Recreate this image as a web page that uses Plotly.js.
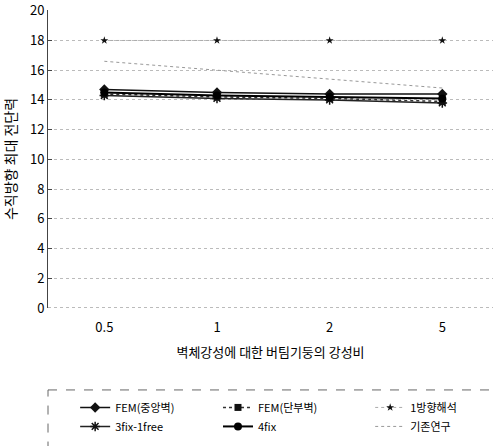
<!DOCTYPE html>
<html><head><meta charset="utf-8">
<script src="https://cdn.plot.ly/plotly-3.0.1.min.js"></script>
<style>html,body{margin:0;padding:0;background:#fff;}#chart{width:493px;height:446px;}</style>
</head><body><div id="chart"></div>
<script>
const categories = ['0.5', '1', '2', '5'];
const femCenter = [14.7, 14.5, 14.4, 14.4];
const femEnd = [14.4, 14.2, 14.1, 13.9];
const oneWay = [18, 18, 18, 18];
const fix3free1 = [14.3, 14.1, 14.0, 13.8];
const fix4 = [14.5, 14.3, 14.2, 14.1];
const previous = [16.6, 16.0, 15.4, 14.8];
const yTicks = [0, 2, 4, 6, 8, 10, 12, 14, 16, 18, 20];

const font = 'Noto Sans CJK KR, sans-serif';
const traces = [
  {name: 'FEM(중앙벽)', legend: 'legend', x: categories, y: femCenter, mode: 'lines+markers',
   line: {color: '#111', width: 1.5}, marker: {symbol: 'diamond', size: 8, color: '#111'}},
  {name: 'FEM(단부벽)', legend: 'legend2', x: categories, y: femEnd, mode: 'lines+markers',
   line: {color: '#333', width: 1.5, dash: 'dot'}, marker: {symbol: 'square', size: 7, color: '#111'}},
  {name: '1방향해석', legend: 'legend3', x: categories, y: oneWay, mode: 'lines+markers',
   line: {color: '#aaa', width: 1, dash: 'dot'}, marker: {symbol: 'star', size: 6, color: '#111'}},
  {name: '3fix-1free', legend: 'legend', x: categories, y: fix3free1, mode: 'lines+markers',
   line: {color: '#222', width: 1.5}, marker: {symbol: 'asterisk-open', size: 8, color: '#111', line: {width: 1.5, color: '#111'}}},
  {name: '4fix', legend: 'legend2', x: categories, y: fix4, mode: 'lines+markers',
   line: {color: '#000', width: 2}, marker: {symbol: 'circle', size: 8, color: '#000'}},
  {name: '기존연구', legend: 'legend3', x: categories, y: previous, mode: 'lines',
   line: {color: '#999', width: 1, dash: 'dot'}}
];

const legendBase = {
  orientation: 'v', y: -0.285, xanchor: 'left', yanchor: 'top',
  font: {size: 11, family: font}, bgcolor: 'rgba(0,0,0,0)', tracegroupgap: 0
};

const layout = {
  width: 493, height: 446,
  margin: {l: 48, r: 0, t: 10, b: 138, autoexpand: false},
  paper_bgcolor: '#fff', plot_bgcolor: '#fff',
  font: {family: font, color: '#000', size: 12},
  showlegend: true,
  xaxis: {
    type: 'category', range: [-0.5, 3.45],
    showgrid: false, zeroline: false, showline: false,
    tickfont: {size: 13, family: font},
    ticks: '', ticklabelstandoff: 10,
    title: {text: '벽체강성에 대한 버팀기둥의 강성비', font: {size: 13, family: font}, standoff: 12}
  },
  yaxis: {
    range: [0, 20.05], tickvals: yTicks, ticktext: yTicks.map(String),
    showgrid: true, gridcolor: '#bbb', griddash: 'dot', gridwidth: 1,
    zeroline: false, showline: true, linecolor: '#444', linewidth: 1,
    ticks: 'inside', ticklen: 4, tickcolor: '#444',
    tickfont: {size: 13, family: font},
    title: {text: '수직방향 최대 전단력', font: {size: 14, family: font}, standoff: 10}
  },
  legend: Object.assign({}, legendBase, {x: 0.061}),
  legend2: Object.assign({}, legendBase, {x: 0.382}),
  legend3: Object.assign({}, legendBase, {x: 0.724}),
  shapes: [
    {type: 'rect', xref: 'paper', yref: 'paper', x0: 0, x1: 1.05, y0: -0.275, y1: -0.5,
     line: {color: '#666', width: 1, dash: 'dash'}},
    {type: 'line', xref: 'paper', yref: 'y', x0: 0, x1: 1, y0: 0, y1: 0,
     line: {color: '#777', width: 1, dash: 'dot'}}
  ]
};
Plotly.newPlot('chart', traces, layout, {displayModeBar: false, staticPlot: true});
</script></body></html>
